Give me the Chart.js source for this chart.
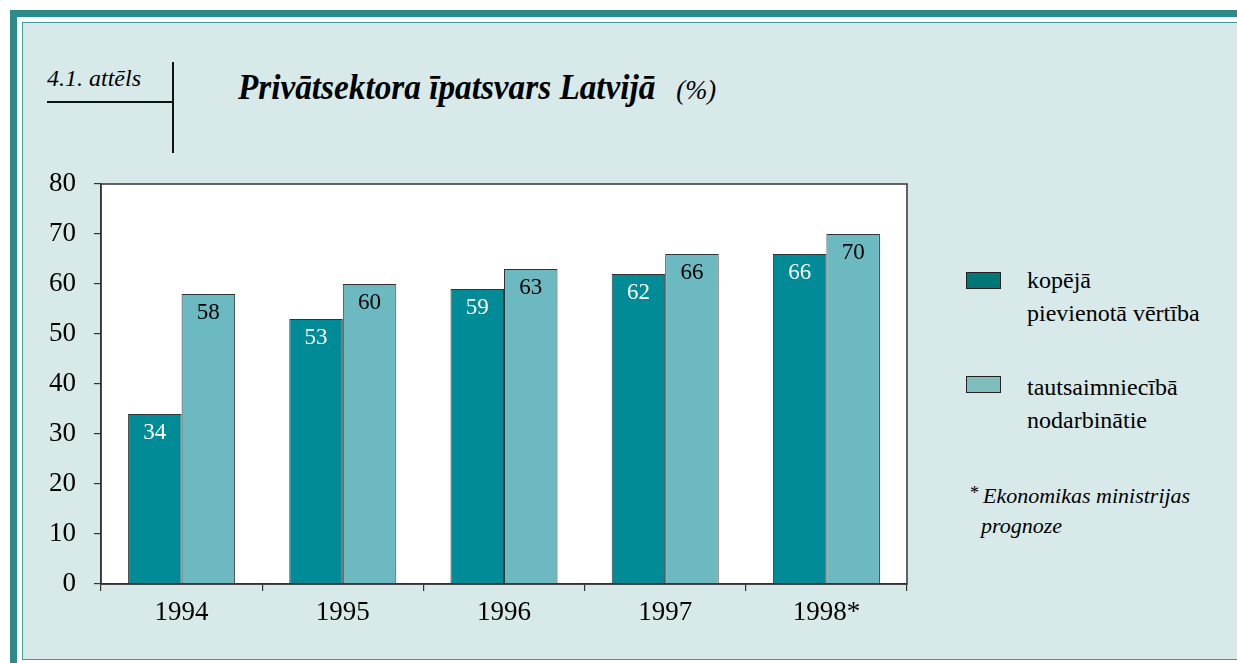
<!DOCTYPE html>
<html>
<head>
<meta charset="utf-8">
<script src="https://cdn.jsdelivr.net/npm/chart.js@4.4.1/dist/chart.umd.min.js"></script>
<style>
  html { overflow: hidden; }
  body { margin: 0; padding: 0; background: #fff; }
  .frame { position: absolute; left: 10px; top: 10px; right: -40px; height: 700px;
           border-top: 7px solid #2e8b8b; border-left: 7px solid #2e8b8b; }
  .panel { position: absolute; left: 22px; top: 22px; right: -40px; height: 636px;
           border-top: 1.5px solid #3c9a9a; border-left: 1.5px solid #3c9a9a; border-bottom: 1.5px solid #3c9a9a;
           background: #d8e9e9; }
  .serif { position: absolute; font-family: "Liberation Serif", "Times New Roman", serif; color: #000; white-space: nowrap; }
  #fig { left: 47px; top: 65px; font-size: 24px; font-style: italic; }
  #figline { position: absolute; left: 47px; top: 101px; width: 126px; height: 1.5px; background: #111; }
  #figvline { position: absolute; left: 172px; top: 62px; width: 1.5px; height: 91px; background: #111; }
  #title { left: 238px; top: 68px; font-size: 35px; font-style: italic; transform-origin: 0 0; transform: scaleX(0.95); }
  #title b { font-weight: bold; }
  #title span { font-size: 28px; margin-left: 22px; }
  .lbox { position: absolute; width: 33px; height: 15px; border: 1px solid #222; }
  .ltext { font-size: 24px; line-height: 33px; }
  #note { left: 970px; top: 478px; font-size: 22px; font-style: italic; line-height: 30px; }
  #note sup { font-style: normal; font-size: 18px; vertical-align: 4px; margin-right: 4px; }
  #chartbox { position: absolute; left: 0; top: 0; width: 1237px; height: 663px; }
</style>
</head>
<body>
<div class="frame"></div>
<div class="panel"></div>
<div id="fig" class="serif">4.1. attēls</div>
<div id="figline"></div>
<div id="figvline"></div>
<div id="title" class="serif"><b>Privātsektora īpatsvars Latvijā</b><span>(%)</span></div>

<div class="lbox" style="left:966px; top:272px; background:#007676;"></div>
<div class="serif ltext" style="left:1027px; top:264px;">kopējā<br>pievienotā vērtība</div>
<div class="lbox" style="left:966px; top:376px; background:#7fbdbd;"></div>
<div class="serif ltext" style="left:1027px; top:371px;">tautsaimniecībā<br>nodarbinātie</div>
<div id="note" class="serif"><sup>*</sup>Ekonomikas ministrijas<br>&nbsp;&nbsp;prognoze</div>

<div id="chartbox"><canvas id="chart" width="1237" height="663"></canvas></div>

<script>
// ── DATA ──────────────────────────────────────────────
const years      = ["1994", "1995", "1996", "1997", "1998*"];
const valueAdded = [34, 53, 59, 62, 66];   // kopējā pievienotā vērtība
const employed   = [58, 60, 63, 66, 70];   // tautsaimniecībā nodarbinātie
const yMin = 0, yMax = 80, yStep = 10;

const labelColors = ["#ffffff", "#000000"];
const serif = "'Liberation Serif', 'Times New Roman', serif";

// ── PLOT BOX + VALUE LABELS ───────────────────────────
const plotBox = {
  id: "plotBox",
  beforeDraw(chart) {
    const { ctx, chartArea: a } = chart;
    ctx.save();
    ctx.fillStyle = "#ffffff";
    ctx.fillRect(a.left, a.top, a.right - a.left, a.bottom - a.top);
    ctx.restore();
  },
  afterDraw(chart) {
    const { ctx, chartArea: a } = chart;
    ctx.save();
    ctx.strokeStyle = "#333";
    ctx.lineWidth = 1.5;
    ctx.strokeRect(a.left, a.top, a.right - a.left, a.bottom - a.top);
    ctx.restore();
  },
};

const valueLabels = {
  id: "valueLabels",
  afterDatasetsDraw(chart) {
    const ctx = chart.ctx;
    ctx.save();
    ctx.font = "23px " + serif;
    ctx.textAlign = "center";
    ctx.textBaseline = "middle";
    chart.data.datasets.forEach((ds, i) => {
      ctx.fillStyle = labelColors[i];
      chart.getDatasetMeta(i).data.forEach((bar, j) => {
        ctx.fillText(ds.data[j], bar.x, bar.y + 19);
      });
    });
    ctx.restore();
  },
};

new Chart(document.getElementById("chart"), {
  type: "bar",
  data: {
    labels: years,
    datasets: [
      { label: "kopējā pievienotā vērtība", data: valueAdded, backgroundColor: "#008b96",
        borderColor: "#333", borderWidth: 1, borderSkipped: "bottom" },
      { label: "tautsaimniecībā nodarbinātie", data: employed, backgroundColor: "#6cb9c2",
        borderColor: "#333", borderWidth: 1, borderSkipped: "bottom" },
    ],
  },
  options: {
    responsive: false,
    animation: false,
    layout: { padding: { left: 30, top: 184, right: 330, bottom: 0 } },
    datasets: { bar: { categoryPercentage: 0.664, barPercentage: 1 } },
    plugins: { legend: { display: false }, tooltip: { enabled: false } },
    scales: {
      x: {
        afterFit: s => { s.height = 79; },
        grid: { drawOnChartArea: false, tickLength: 7, color: "#333", lineWidth: 1.2 },
        border: { color: "#333", width: 1.5 },
        ticks: { color: "#000", font: { family: serif, size: 27 }, padding: 6 },
      },
      y: {
        min: yMin, max: yMax,
        afterFit: s => { s.width = 71; },
        grid: { drawOnChartArea: false, tickLength: 7, color: "#333", lineWidth: 1.2 },
        border: { color: "#333", width: 1.5 },
        ticks: { stepSize: yStep, color: "#000", font: { family: serif, size: 27 }, padding: 18 },
      },
    },
  },
  plugins: [plotBox, valueLabels],
});
</script>
</body>
</html>
